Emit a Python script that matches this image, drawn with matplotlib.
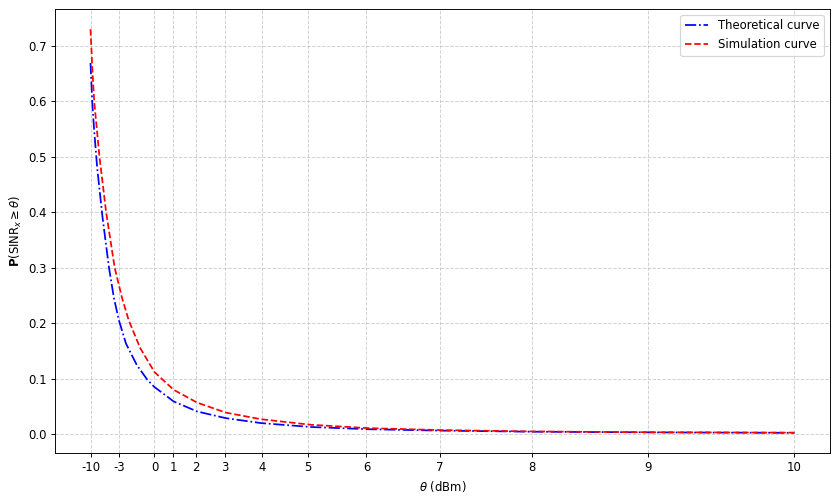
import numpy as np
import matplotlib
matplotlib.use("Agg")
import matplotlib.pyplot as plt

# theta in linear units (mW)
theo_x = [0.1, 0.124, 0.15, 0.194, 0.27, 0.36, 0.43, 0.5, 0.6, 0.75,
          0.9, 1.0, 1.27, 1.6, 2.0, 2.5, 3.2, 4.0, 5.0, 6.3, 8.0, 10.0]
theo_y = [0.669, 0.6, 0.55, 0.48, 0.39, 0.3, 0.245, 0.205, 0.163, 0.125,
          0.098, 0.085, 0.059, 0.041, 0.029, 0.020, 0.013, 0.009, 0.0065,
          0.0045, 0.0033, 0.0025]

sim_x = [0.1, 0.125, 0.152, 0.226, 0.32, 0.44, 0.545, 0.638, 0.8, 1.0,
         1.27, 1.6, 2.0, 2.5, 3.2, 4.0, 5.0, 6.3, 8.0, 10.0]
sim_y = [0.730, 0.66, 0.6, 0.5, 0.4, 0.3, 0.245, 0.205, 0.155, 0.112,
         0.08, 0.057, 0.039, 0.027, 0.017, 0.011, 0.0075, 0.005, 0.0035,
         0.0028]

# x ticks labelled in dBm, placed at their linear (mW) value
tick_dbm = [-10, -3, 0, 1, 2, 3, 4, 5, 6, 7, 8, 9, 10]
tick_mw = [10 ** (d / 10) for d in tick_dbm]

# drawn as a 10x6 figure, saved down to 838x500
fig, ax = plt.subplots(figsize=(10, 5.9666), dpi=83.8)
ax.plot(theo_x, theo_y, "-.", color="blue", lw=1.5, label="Theoretical curve")
ax.plot(sim_x, sim_y, "--", color="red", lw=1.5, label="Simulation curve")

ax.set_xticks(tick_mw)
ax.set_xticklabels([str(d) for d in tick_dbm])
ax.set_xlabel(r"$\theta$ (dBm)")
ax.set_ylabel(r"$\mathbf{P}(\mathrm{SINR}_x \geq \theta)$")
ax.grid(True, linestyle="--", alpha=0.6)
ax.legend(loc="upper right")

fig.subplots_adjust(left=0.066, right=0.990, top=0.982, bottom=0.094)
fig.savefig("out.png", dpi=83.8)
